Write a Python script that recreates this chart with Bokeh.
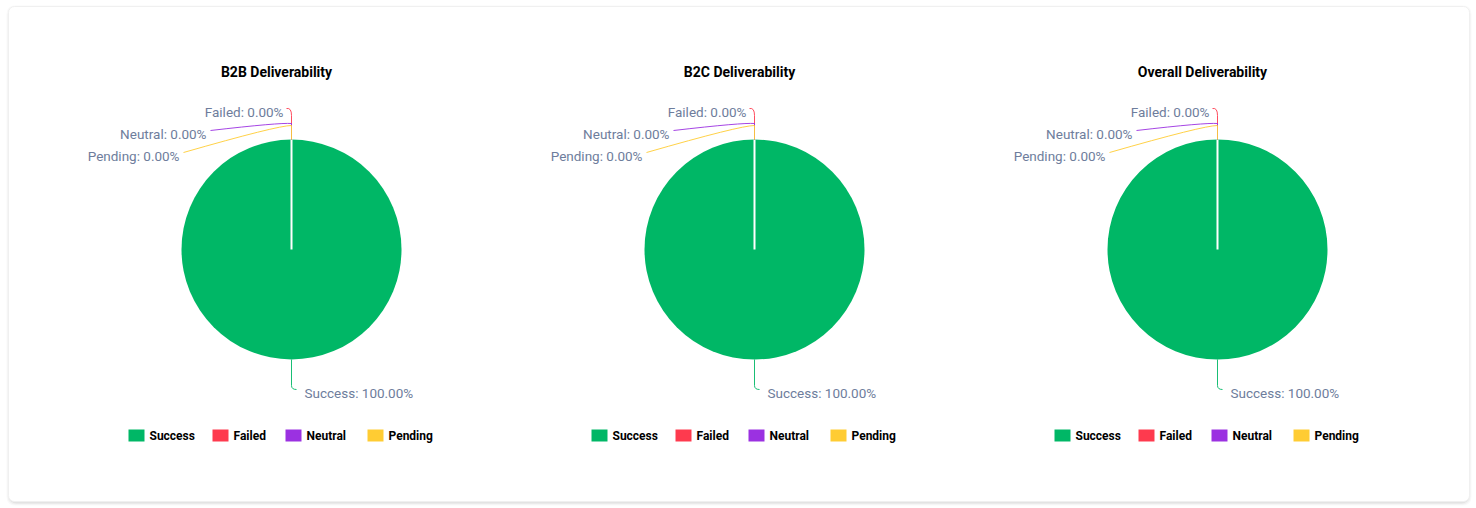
import math
from bokeh.plotting import figure
from bokeh.models import Range1d, ColumnDataSource
from bokeh.core.properties import value
from bokeh.embed import file_html
from bokeh.resources import INLINE

# ---- data ----
titles = ["B2B Deliverability", "B2C Deliverability", "Overall Deliverability"]
categories = ["Success", "Failed", "Neutral", "Pending"]
colors = ["#00b766", "#fe3a4e", "#9b31e1", "#ffcc33"]
b2b_values = [100, 0, 0, 0]
b2c_values = [100, 0, 0, 0]
overall_values = [100, 0, 0, 0]
series = [b2b_values, b2c_values, overall_values]

W, H = 1476, 508
FONT = value("Roboto")
LABEL_COLOR = "#6e7d9c"

p = figure(width=W, height=H, output_backend="svg", toolbar_location=None,
           x_range=Range1d(0, W), y_range=Range1d(0, H), min_border=0)
p.axis.visible = False
p.grid.visible = False
p.outline_line_color = None
p.background_fill_color = "white"
p.border_fill_color = "white"


def Y(py):
    return H - py


# card with soft shadow
for i, a in enumerate([0.025, 0.035, 0.05]):
    d = 3 - i
    p.quad(left=8 - d + 1, right=1469 + d - 1, top=Y(6 - d + 2), bottom=Y(502 + d),
           fill_color="black", fill_alpha=a, line_color=None, border_radius=8)
p.quad(left=8, right=1469, top=Y(6), bottom=Y(501), fill_color="white",
       line_color="#f0f0f0", line_width=1, border_radius=6)

centers = [291, 754, 1217]
cy_px = 249
R = 110

# label layout offsets (px, relative to centre) for each category
# (stem_len, end_dx, end_dy, ctrl_dx, ctrl_dy, text_dx, text_dy, align)
label_layout = {
    "Success": (26, 5, 140, 0, 140, 13, 143, "left"),
    "Failed": (24, -5, -141, 0, -142, -8, -138, "right"),
    "Neutral": (16, -81, -119, -12, -127, -85, -116, "right"),
    "Pending": (14, -108, -97, -14, -124, -112, -94, "right"),
}

for k, (cx, vals, title) in enumerate(zip(centers, series, titles)):
    total = sum(vals)
    # pie wedges (clockwise from 12 o'clock)
    starts, ends = [], []
    acc = 0.0
    for v in vals:
        s = math.pi / 2 - 2 * math.pi * acc / total
        acc += v
        e = math.pi / 2 - 2 * math.pi * acc / total
        starts.append(s)
        ends.append(e)
    for i, v in enumerate(vals):
        if v == total:
            p.circle(x=cx, y=Y(cy_px), radius=R, fill_color=colors[i], line_color=None)
            p.segment(x0=cx, y0=Y(cy_px), x1=cx, y1=Y(cy_px - R), line_color="white", line_width=2)
        elif v > 0:
            p.wedge(x=cx, y=Y(cy_px), radius=R, start_angle=starts[i], end_angle=ends[i],
                    direction="clock", fill_color=colors[i], line_color="white", line_width=2)

    # labels with leader lines
    for i, (cat, v) in enumerate(zip(categories, vals)):
        mid = (starts[i] + ends[i]) / 2
        ax = cx + R * math.cos(mid)
        ay = Y(cy_px) + R * math.sin(mid)
        stem, edx, edy, cdx, cdy, tdx, tdy, align = label_layout[cat]
        sgn = 1 if math.sin(mid) > 0 else -1
        sy = ay + sgn * stem
        p.segment(x0=ax, y0=ay, x1=ax, y1=sy, line_color=colors[i], line_width=1, line_alpha=0.9)
        p.quadratic(x0=ax, y0=sy, x1=cx + edx, y1=Y(cy_px + edy), cx=cx + cdx, cy=Y(cy_px + cdy),
                    line_color=colors[i], line_width=1, line_alpha=0.9)
        pct = v / total * 100
        p.text(x=[cx + tdx], y=[Y(cy_px + tdy)], text=[f"{cat}: {pct:.2f}%"],
               text_font=FONT, text_font_size="13.5px", text_color=LABEL_COLOR,
               text_align=align, text_baseline="middle")

    # title
    p.text(x=[cx - 15], y=[Y(71)], text=[title], text_font=FONT, text_font_size="14px",
           text_font_style="bold", text_color="#000000", text_align="center", text_baseline="middle")

    # legend
    leg_dx = [-163, -79, -6, 76]
    lx = [cx + d for d in leg_dx]
    lsrc = ColumnDataSource(dict(l=lx, r=[x + 16 for x in lx], c=colors, t=categories,
                                 tx=[x + 21 for x in lx]))
    p.quad(left="l", right="r", top=Y(429), bottom=Y(441), fill_color="c", line_color=None, source=lsrc)
    p.text(x="tx", y=Y(435.5), text="t", source=lsrc, text_font=FONT, text_font_size="12px",
           text_font_style="bold", text_color="#000000", text_baseline="middle")

open("out.html", "w").write(file_html(p, INLINE))
